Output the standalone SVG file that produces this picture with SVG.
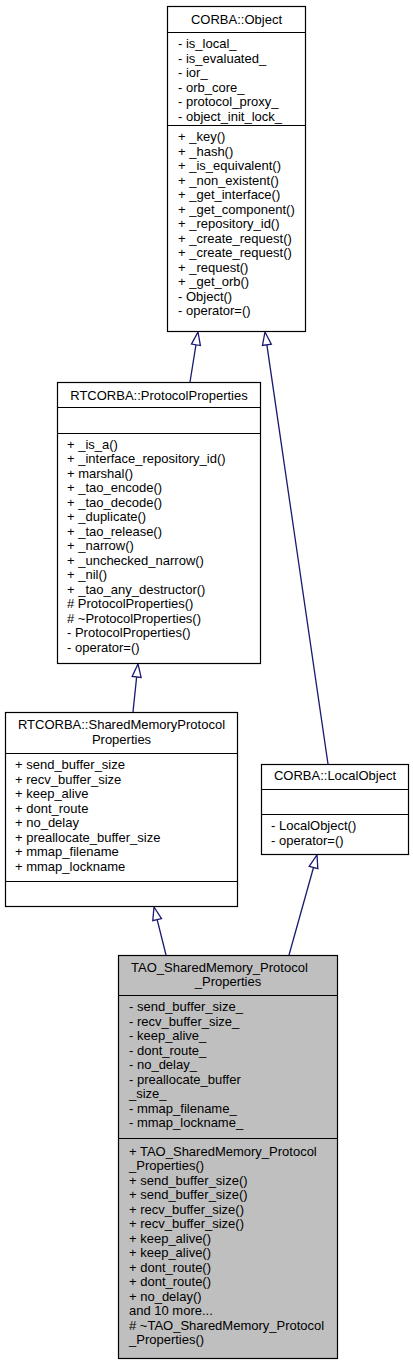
<svg xmlns="http://www.w3.org/2000/svg" width="413" height="1360" viewBox="0 0 413 1360">
<style>
.box{fill:#ffffff;stroke:#000000;stroke-width:1.2}
.cur{fill:#bfbfbf;stroke:#000000;stroke-width:1.2}
.sep{stroke:#000000;stroke-width:1.2}
text{font-family:"Liberation Sans",Arial,Helvetica,sans-serif;font-size:13px;fill:#000000}
.t{text-anchor:middle}
.edge{stroke:#191970;stroke-width:1.3;fill:none}
.head{stroke:#191970;stroke-width:1.3;fill:#ffffff}
</style>
<rect width="413" height="1360" fill="#ffffff"/>
<g id="connectors">
<g id="e-pp-obj"><path class="edge" d="M190,382 L195.95,344.83"/><polygon class="head" points="198,332 200.39,345.54 191.51,344.12"/></g>
<g id="e-lo-obj"><path class="edge" d="M328,764 L266.88,344.86"/><polygon class="head" points="265,332 271.33,344.21 262.43,345.51"/></g>
<g id="e-sm-pp"><path class="edge" d="M133,712 L136.65,676.93"/><polygon class="head" points="138,664 141.13,677.4 132.17,676.46"/></g>
<g id="e-tao-sm"><path class="edge" d="M166,955 L157.15,919.61"/><polygon class="head" points="154,907 161.52,918.52 152.78,920.7"/></g>
<g id="e-tao-lo"><path class="edge" d="M289,955 L313.5,867.52"/><polygon class="head" points="317,855 317.83,868.73 309.17,866.31"/></g>
</g>
<g id="node-corba-object">
<rect class="box" x="167.5" y="6.5" width="138" height="325"/>
<line class="sep" x1="167.5" y1="32.5" x2="305.5" y2="32.5"/>
<line class="sep" x1="167.5" y1="125.5" x2="305.5" y2="125.5"/>
<text class="t" x="236.5" y="24">CORBA::Object</text>
<text x="178" y="48">- is_local_</text>
<text x="178" y="62.5">- is_evaluated_</text>
<text x="178" y="77">- ior_</text>
<text x="178" y="91.5">- orb_core_</text>
<text x="178" y="106">- protocol_proxy_</text>
<text x="178" y="120.5">- object_init_lock_</text>
<text x="178" y="141">+ _key()</text>
<text x="178" y="155.5">+ _hash()</text>
<text x="178" y="170">+ _is_equivalent()</text>
<text x="178" y="184.5">+ _non_existent()</text>
<text x="178" y="199">+ _get_interface()</text>
<text x="178" y="213.5">+ _get_component()</text>
<text x="178" y="228">+ _repository_id()</text>
<text x="178" y="242.5">+ _create_request()</text>
<text x="178" y="257">+ _create_request()</text>
<text x="178" y="271.5">+ _request()</text>
<text x="178" y="286">+ _get_orb()</text>
<text x="178" y="300.5">- Object()</text>
<text x="178" y="315">- operator=()</text>
</g>
<g id="node-protocol-properties">
<rect class="box" x="57.5" y="382.5" width="203" height="281"/>
<line class="sep" x1="57.5" y1="407.5" x2="260.5" y2="407.5"/>
<line class="sep" x1="57.5" y1="433.5" x2="260.5" y2="433.5"/>
<text class="t" x="159" y="399.5">RTCORBA::ProtocolProperties</text>
<text x="67" y="448.5">+ _is_a()</text>
<text x="67" y="463">+ _interface_repository_id()</text>
<text x="67" y="477.5">+ marshal()</text>
<text x="67" y="492">+ _tao_encode()</text>
<text x="67" y="506.5">+ _tao_decode()</text>
<text x="67" y="521">+ _duplicate()</text>
<text x="67" y="535.5">+ _tao_release()</text>
<text x="67" y="550">+ _narrow()</text>
<text x="67" y="564.5">+ _unchecked_narrow()</text>
<text x="67" y="579">+ _nil()</text>
<text x="67" y="593.5">+ _tao_any_destructor()</text>
<text x="67" y="608"># ProtocolProperties()</text>
<text x="67" y="622.5"># ~ProtocolProperties()</text>
<text x="67" y="637">- ProtocolProperties()</text>
<text x="67" y="651.5">- operator=()</text>
</g>
<g id="node-shared-memory-protocol-properties">
<rect class="box" x="5.5" y="712.5" width="232" height="194"/>
<line class="sep" x1="5.5" y1="753.5" x2="237.5" y2="753.5"/>
<line class="sep" x1="5.5" y1="881.5" x2="237.5" y2="881.5"/>
<text class="t" x="121.5" y="729">RTCORBA::SharedMemoryProtocol</text>
<text class="t" x="121.5" y="743.5">Properties</text>
<text x="15" y="769">+ send_buffer_size</text>
<text x="15" y="783.5">+ recv_buffer_size</text>
<text x="15" y="798">+ keep_alive</text>
<text x="15" y="812.5">+ dont_route</text>
<text x="15" y="827">+ no_delay</text>
<text x="15" y="841.5">+ preallocate_buffer_size</text>
<text x="15" y="856">+ mmap_filename</text>
<text x="15" y="870.5">+ mmap_lockname</text>
</g>
<g id="node-local-object">
<rect class="box" x="261.5" y="764.5" width="147" height="90"/>
<line class="sep" x1="261.5" y1="789.5" x2="408.5" y2="789.5"/>
<line class="sep" x1="261.5" y1="814.5" x2="408.5" y2="814.5"/>
<text class="t" x="335" y="780">CORBA::LocalObject</text>
<text x="271" y="830">- LocalObject()</text>
<text x="271" y="844.5">- operator=()</text>
</g>
<g id="node-tao-shared-memory-protocol-properties">
<rect class="cur" x="118.5" y="955.5" width="219" height="403"/>
<line class="sep" x1="118.5" y1="995.5" x2="337.5" y2="995.5"/>
<line class="sep" x1="118.5" y1="1138.5" x2="337.5" y2="1138.5"/>
<text x="131" y="971.5">TAO_SharedMemory_Protocol</text>
<text class="t" x="228" y="986">_Properties</text>
<text x="129" y="1011">- send_buffer_size_</text>
<text x="129" y="1025.5">- recv_buffer_size_</text>
<text x="129" y="1040">- keep_alive_</text>
<text x="129" y="1054.5">- dont_route_</text>
<text x="129" y="1069">- no_delay_</text>
<text x="129" y="1083.5">- preallocate_buffer</text>
<text x="129" y="1098">_size_</text>
<text x="129" y="1112.5">- mmap_filename_</text>
<text x="129" y="1127">- mmap_lockname_</text>
<text x="129" y="1155.5">+ TAO_SharedMemory_Protocol</text>
<text x="129" y="1170">_Properties()</text>
<text x="129" y="1184.5">+ send_buffer_size()</text>
<text x="129" y="1199">+ send_buffer_size()</text>
<text x="129" y="1213.5">+ recv_buffer_size()</text>
<text x="129" y="1228">+ recv_buffer_size()</text>
<text x="129" y="1242.5">+ keep_alive()</text>
<text x="129" y="1257">+ keep_alive()</text>
<text x="129" y="1271.5">+ dont_route()</text>
<text x="129" y="1286">+ dont_route()</text>
<text x="129" y="1300.5">+ no_delay()</text>
<text x="129" y="1315">and 10 more...</text>
<text x="129" y="1329.5"># ~TAO_SharedMemory_Protocol</text>
<text x="129" y="1344">_Properties()</text>
</g>
</svg>
